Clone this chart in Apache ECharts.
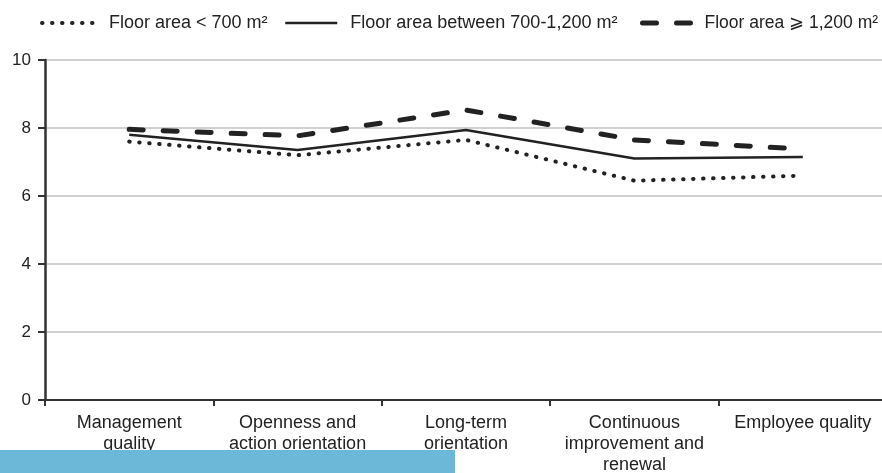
<!DOCTYPE html>
<html>
<head>
<meta charset="utf-8">
<script src="https://cdn.jsdelivr.net/npm/echarts@6/dist/echarts.min.js"></script>
<style>
  html, body { margin: 0; padding: 0; background: #fff; }
  #chart { width: 882px; height: 473px; }
</style>
</head>
<body>
<div id="chart"></div>
<script>
// categories on the x axis
var categories = [
  'Management\nquality',
  'Openness and\naction orientation',
  'Long-term\norientation',
  'Continuous\nimprovement and\nrenewal',
  'Employee quality'
]
// series names
var seriesNames = [
  'Floor area < 700 m²',
  'Floor area between 700-1,200 m²',
  'Floor area ⩾ 1,200 m²'
]
// values
var smallArea = [7.6, 7.2, 7.65, 6.45, 6.6]
var mediumArea = [7.8, 7.35, 7.94, 7.1, 7.15]
var largeArea = [7.96, 7.77, 8.53, 7.65, 7.38]
var yTicks = [0, 2, 4, 6, 8, 10]

var chart = echarts.init(document.getElementById('chart'))

var fontFam = 'Liberation Sans, Arial, sans-serif'
var ink = '#222'

// line styles, shared by series and their legend samples
var dotStyle = { color: ink, width: 4, type: [0.5, 9.5], cap: 'round' }
var solidStyle = { color: ink, width: 2.5, type: 'solid' }
var dashStyle = { color: ink, width: 5, type: [14, 20], cap: 'round' }

function legendAt (left, name, pad, size, lineStyle) {
  return {
    left: left,
    top: 14,
    padding: 0,
    itemWidth: 52,
    itemHeight: 10,
    selectedMode: false,
    data: [name],
    itemStyle: { opacity: 0 },
    lineStyle: lineStyle,
    textStyle: {
      fontFamily: fontFam,
      fontSize: size,
      color: ink,
      padding: [0, 0, 0, pad]
    }
  }
}

var option = {
  animation: false,
  backgroundColor: '#fff',
  legend: [
    legendAt(40, seriesNames[0], 10, 18, dotStyle),
    legendAt(284, seriesNames[1], 8, 18, solidStyle),
    legendAt(640, seriesNames[2], 5, 17.5, dashStyle)
  ],
  grid: {
    left: 45,
    top: 60,
    width: 842,
    height: 340,
    containLabel: false,
    outerBoundsMode: 'none'
  },
  xAxis: {
    type: 'category',
    data: categories,
    boundaryGap: true,
    axisLine: { lineStyle: { color: '#333', width: 2 } },
    axisTick: { show: true, length: 6, lineStyle: { color: '#333', width: 2 } },
    axisLabel: {
      fontFamily: fontFam,
      fontSize: 18,
      color: ink,
      lineHeight: 21,
      margin: 13,
      interval: 0
    },
    splitLine: { show: false }
  },
  yAxis: {
    type: 'value',
    min: yTicks[0],
    max: yTicks[yTicks.length - 1],
    interval: 2,
    axisLine: { show: true, lineStyle: { color: '#333', width: 2.5 } },
    axisTick: { show: true, length: 7, lineStyle: { color: '#333', width: 2 } },
    axisLabel: {
      fontFamily: fontFam,
      fontSize: 17,
      color: ink,
      margin: 14
    },
    splitLine: { show: true, lineStyle: { color: '#c2c2c2', width: 1.5 } }
  },
  series: [
    {
      name: seriesNames[0],
      type: 'line',
      symbol: 'none',
      data: smallArea,
      lineStyle: dotStyle,
      itemStyle: { color: ink },
      z: 3
    },
    {
      name: seriesNames[1],
      type: 'line',
      symbol: 'none',
      data: mediumArea,
      lineStyle: solidStyle,
      itemStyle: { color: ink },
      z: 4
    },
    {
      name: seriesNames[2],
      type: 'line',
      symbol: 'none',
      data: largeArea,
      lineStyle: dashStyle,
      itemStyle: { color: ink },
      z: 5
    }
  ],
  // blue band over the lower left corner
  graphic: [
    {
      type: 'rect',
      left: 0,
      top: 450,
      z: 100,
      shape: { width: 455, height: 23 },
      style: { fill: '#6cb8d9' }
    }
  ]
}

chart.clear()
chart.setOption(option, true)
</script>
</body>
</html>
